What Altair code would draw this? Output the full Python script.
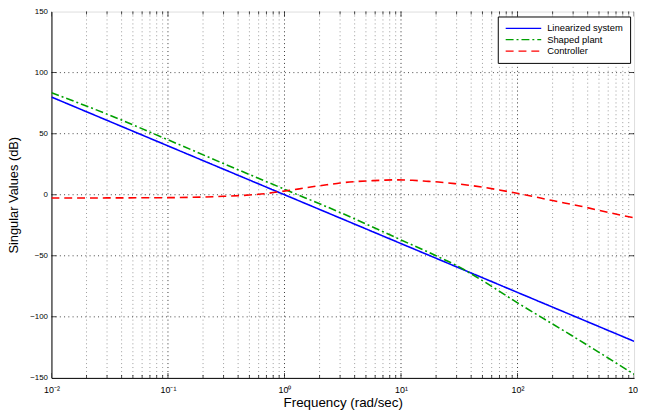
import math
import altair as alt
import pandas as pd

# ---------------- data ----------------
series_names = ["Linearized system", "Shaped plant", "Controller"]
series_colors = ["#0000ff", "#00a000", "#ff0000"]
series_dashes = [[1, 0], [8, 3, 2, 3], [8, 5]]

lin_freq = [0.01, 0.1, 1, 10, 100, 1000]
lin_db = [80, 40, 0, -40, -80, -120]

shaped_freq = [0.01, 0.03, 0.1, 0.3, 1, 3, 10, 20, 30, 50, 100, 300, 1000]
shaped_db = [83.5, 66, 45, 25.5, 4.5, -14.5, -37, -50, -58, -70.3, -88.5, -116, -147]

ctrl_freq = [0.01, 0.03, 0.1, 0.3, 0.5, 0.7, 0.95, 1.3, 1.73, 2.3, 3, 4, 5.4, 7, 9.4,
             12.5, 16.4, 21, 29, 38, 50, 87, 115, 200, 350, 600, 1000]
ctrl_db = [-2.7, -2.6, -2.4, -1.3, -0.2, 1.0, 2.7, 4.6, 6.5, 8.1, 9.6, 10.7, 11.4, 11.9, 12.2,
           11.8, 11.1, 10.4, 9.1, 7.8, 6.2, 2.2, 0.0, -4.8, -9.4, -14.5, -18.9]

# axis ticks / labels
decade_vals = [0.01, 0.1, 1, 10, 100, 1000]
decade_labels = ["10\u207b\u00b2", "10\u207b\u00b9", "10\u2070", "10\u00b9", "10\u00b2", "10\u00b3"]
minor_mults = [2, 3, 4, 5, 6, 7, 8, 9]
y_ticks = [-150, -100, -50, 0, 50, 100, 150]
y_inner = [-100, -50, 0, 50, 100]

# ---------------- tables ----------------
rows = []
for name, fs, ds in zip(series_names, [lin_freq, shaped_freq, ctrl_freq], [lin_db, shaped_db, ctrl_db]):
    for f, d in zip(fs, ds):
        rows.append({"f": f, "db": d, "series": name})
df = pd.DataFrame(rows)

minor_vals = [m * d for d in decade_vals[:-1] for m in minor_mults]
inner_decades = decade_vals[1:-1]

df_minor = pd.DataFrame({"f": minor_vals})
df_major = pd.DataFrame({"f": inner_decades})
df_hgrid = pd.DataFrame({"db": y_inner})

df_tick_major = pd.DataFrame(
    [{"f": f, "db": y} for f in decade_vals for y in (y_ticks[0], y_ticks[-1])]
)
df_tick_minor = pd.DataFrame(
    [{"f": f, "db": y} for f in minor_vals for y in (y_ticks[0], y_ticks[-1])]
)
df_tick_side = pd.DataFrame(
    [{"f": f, "db": y} for f in (decade_vals[0], decade_vals[-1]) for y in y_inner]
)

# label expression
expr = "''"
for v, lab in reversed(list(zip(decade_vals, decade_labels))):
    expr = f"(abs(log(datum.value)/LN10 - ({math.log10(v)})) < 0.01) ? '{lab}' : {expr}"

FONT = "Liberation Sans"

xscale = alt.Scale(type="log", domain=[decade_vals[0], decade_vals[-1]], nice=False)
yscale = alt.Scale(domain=[y_ticks[0], y_ticks[-1]], nice=False)

xaxis = alt.Axis(
    values=decade_vals, labelExpr=expr, grid=False, ticks=False, tickSize=0,
    domainColor="black", domainWidth=1,
    labelFont=FONT, labelFontSize=9, labelColor="black",
    labelBaseline="alphabetic", labelPadding=15, labelFlush=False, labelOverlap=False,
    title="Frequency (rad/sec)", titleFont=FONT, titleFontSize=13.5,
    titleFontWeight="normal", titleColor="black", titleY=29, titleBaseline="alphabetic",
)
yaxis = alt.Axis(
    values=y_ticks, grid=False, ticks=False, tickSize=0,
    domainColor="black", domainWidth=1,
    labelFont=FONT, labelFontSize=8, labelColor="black", labelPadding=4,
    labelFlush=False, labelOverlap=False,
    title="Singular Values (dB)", titleFont=FONT, titleFontSize=13,
    titleFontWeight="normal", titleColor="black", titleX=-38, titleBaseline="middle",
)

X = alt.X("f:Q", scale=xscale, axis=xaxis)
Y = alt.Y("db:Q", scale=yscale, axis=yaxis)

vminor = alt.Chart(df_minor).mark_rule(color="#9a9a9a", strokeDash=[1, 3], strokeWidth=1).encode(x=X)
vmajor = alt.Chart(df_major).mark_rule(color="#333333", strokeDash=[1, 3], strokeWidth=1).encode(x=X)
hgrid = alt.Chart(df_hgrid).mark_rule(color="#444444", strokeDash=[1, 3.3], strokeWidth=1).encode(y=Y)

tick_major = alt.Chart(df_tick_major).mark_tick(
    orient="vertical", size=10, thickness=1, color="black", clip=True
).encode(x=X, y=Y)
tick_minor = alt.Chart(df_tick_minor).mark_tick(
    orient="vertical", size=6, thickness=1, color="black", clip=True
).encode(x=X, y=Y)
tick_side = alt.Chart(df_tick_side).mark_tick(
    orient="horizontal", size=10, thickness=1, color="black", clip=True
).encode(x=X, y=Y)

legend = alt.Legend(
    title=None, orient="none", legendX=452, legendY=5,
    fillColor="white", strokeColor="black", padding=7,
    symbolType="stroke", symbolSize=1296, symbolStrokeWidth=1.3,
    labelFont=FONT, labelFontSize=9.5, labelColor="black", labelOffset=5,
    clipHeight=10, rowPadding=1.5,
)

lines = alt.Chart(df).mark_line(strokeWidth=1.6, clip=True, interpolate="monotone").encode(
    x=X, y=Y,
    color=alt.Color("series:N", scale=alt.Scale(domain=series_names, range=series_colors), legend=legend),
    strokeDash=alt.StrokeDash("series:N", scale=alt.Scale(domain=series_names, range=series_dashes), legend=legend),
    order=alt.Order("f:Q"),
)

chart = alt.layer(vminor, vmajor, hgrid, tick_minor, tick_major, tick_side, lines).properties(
    width=590, height=371,
    padding={"left": 44, "top": 1, "right": 4, "bottom": 38},
    autosize=alt.AutoSizeParams(type="none"),
).configure_view(stroke="black", strokeWidth=1).configure(background="white")

chart.save("out.html", embed_options={"renderer": "svg", "actions": False})
